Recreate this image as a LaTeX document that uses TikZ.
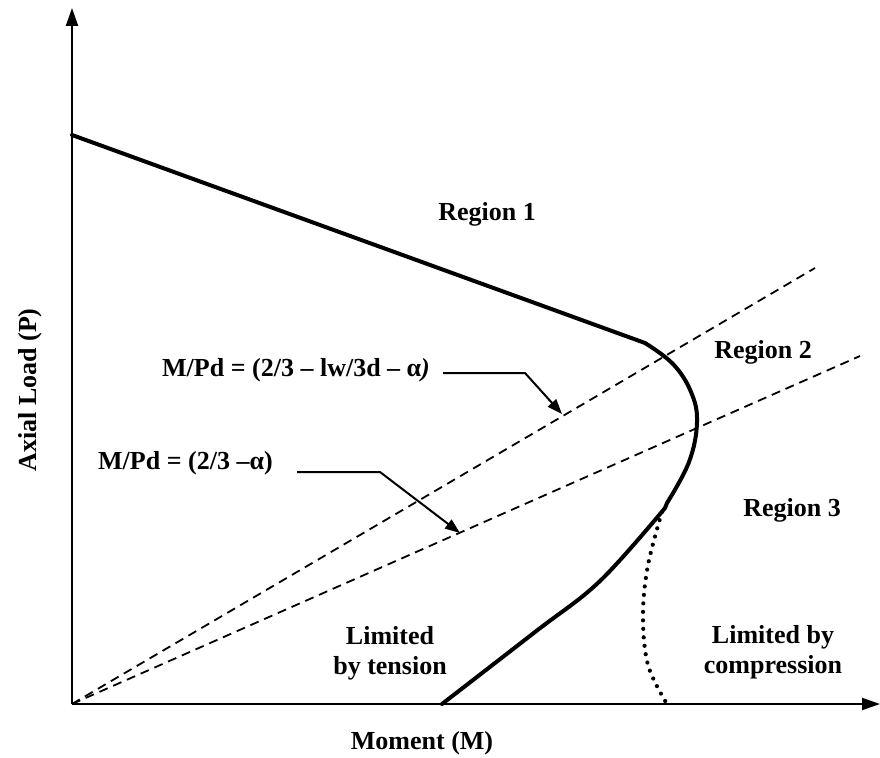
\documentclass[tikz,border=0pt]{standalone}
\usepackage{fontspec}
\setmainfont{Liberation Serif}
\usetikzlibrary{arrows.meta}
\begin{document}
\begin{tikzpicture}[x=1pt,y=-1pt,
  lbl/.style={font=\fontsize{26}{30}\selectfont\bfseries, inner sep=0pt, align=center},
  axisline/.style={line width=2pt, -{Triangle[length=18pt,width=12pt]}},
  curve/.style={line width=4pt, line join=round, line cap=round},
  guide/.style={line width=1.8pt, dash pattern=on 9pt off 6pt},
  leader/.style={line width=2pt, -{Triangle[length=15pt,width=11pt]}},
  dotcurve/.style={line width=4.2pt, line cap=round, dash pattern=on 0pt off 8.5pt}]
\useasboundingbox (0,0) rectangle (880,757);
% axes
\coordinate (O) at (72,704);
\coordinate (ytip) at (72,8);
\coordinate (xtip) at (880,704);
\draw[axisline] (O) -- (ytip);
\draw[axisline] (O) -- (xtip);
% guide lines
\coordinate (g1) at (815,268);
\coordinate (g2) at (860,356);
\draw[guide] (O) -- (g1);
\draw[guide] (O) -- (g2);
% interaction curve
\draw[curve] (72,135) -- (645,343)
  -- plot[smooth, tension=0.65] coordinates {(645,343) (673,364) (691,392) (697,422) (689,462) (667,503)}
  -- (665,508)
  -- plot[smooth, tension=0.6] coordinates {(665,508) (600,581) (535,632) (442,704)};
% dotted branch
\draw[dotcurve] plot[smooth, tension=0.6] coordinates {(662,512) (648,565) (643,615) (648,665) (667,704)};
% labels
\node[lbl, anchor=west] (eq1) at (162,370) {M/Pd = (2/3 – lw/3d – α\textit{)}};
\node[lbl, anchor=west] (eq2) at (98,463) {M/Pd = (2/3 –α)};
\coordinate (l1a) at (443,373);
\coordinate (l1b) at (525,373);
\coordinate (l1c) at (562,414);
\draw[leader] (l1a) -- (l1b) -- (l1c);
\coordinate (l2a) at (297,472);
\coordinate (l2b) at (380,472);
\coordinate (l2c) at (460,533);
\draw[leader] (l2a) -- (l2b) -- (l2c);
\node[lbl] (r1) at (487,214) {Region 1};
\node[lbl] (r2) at (763,352) {Region 2};
\node[lbl] (r3) at (792,510) {Region 3};
\node[lbl] (lt) at (390,653) {Limited\\by tension};
\node[lbl] (lc) at (773,652) {Limited by\\compression};
\node[lbl] (mx) at (422,743) {Moment (M)};
\node[lbl, rotate=90] (my) at (30,390) {Axial Load (P)};
\end{tikzpicture}
\end{document}
